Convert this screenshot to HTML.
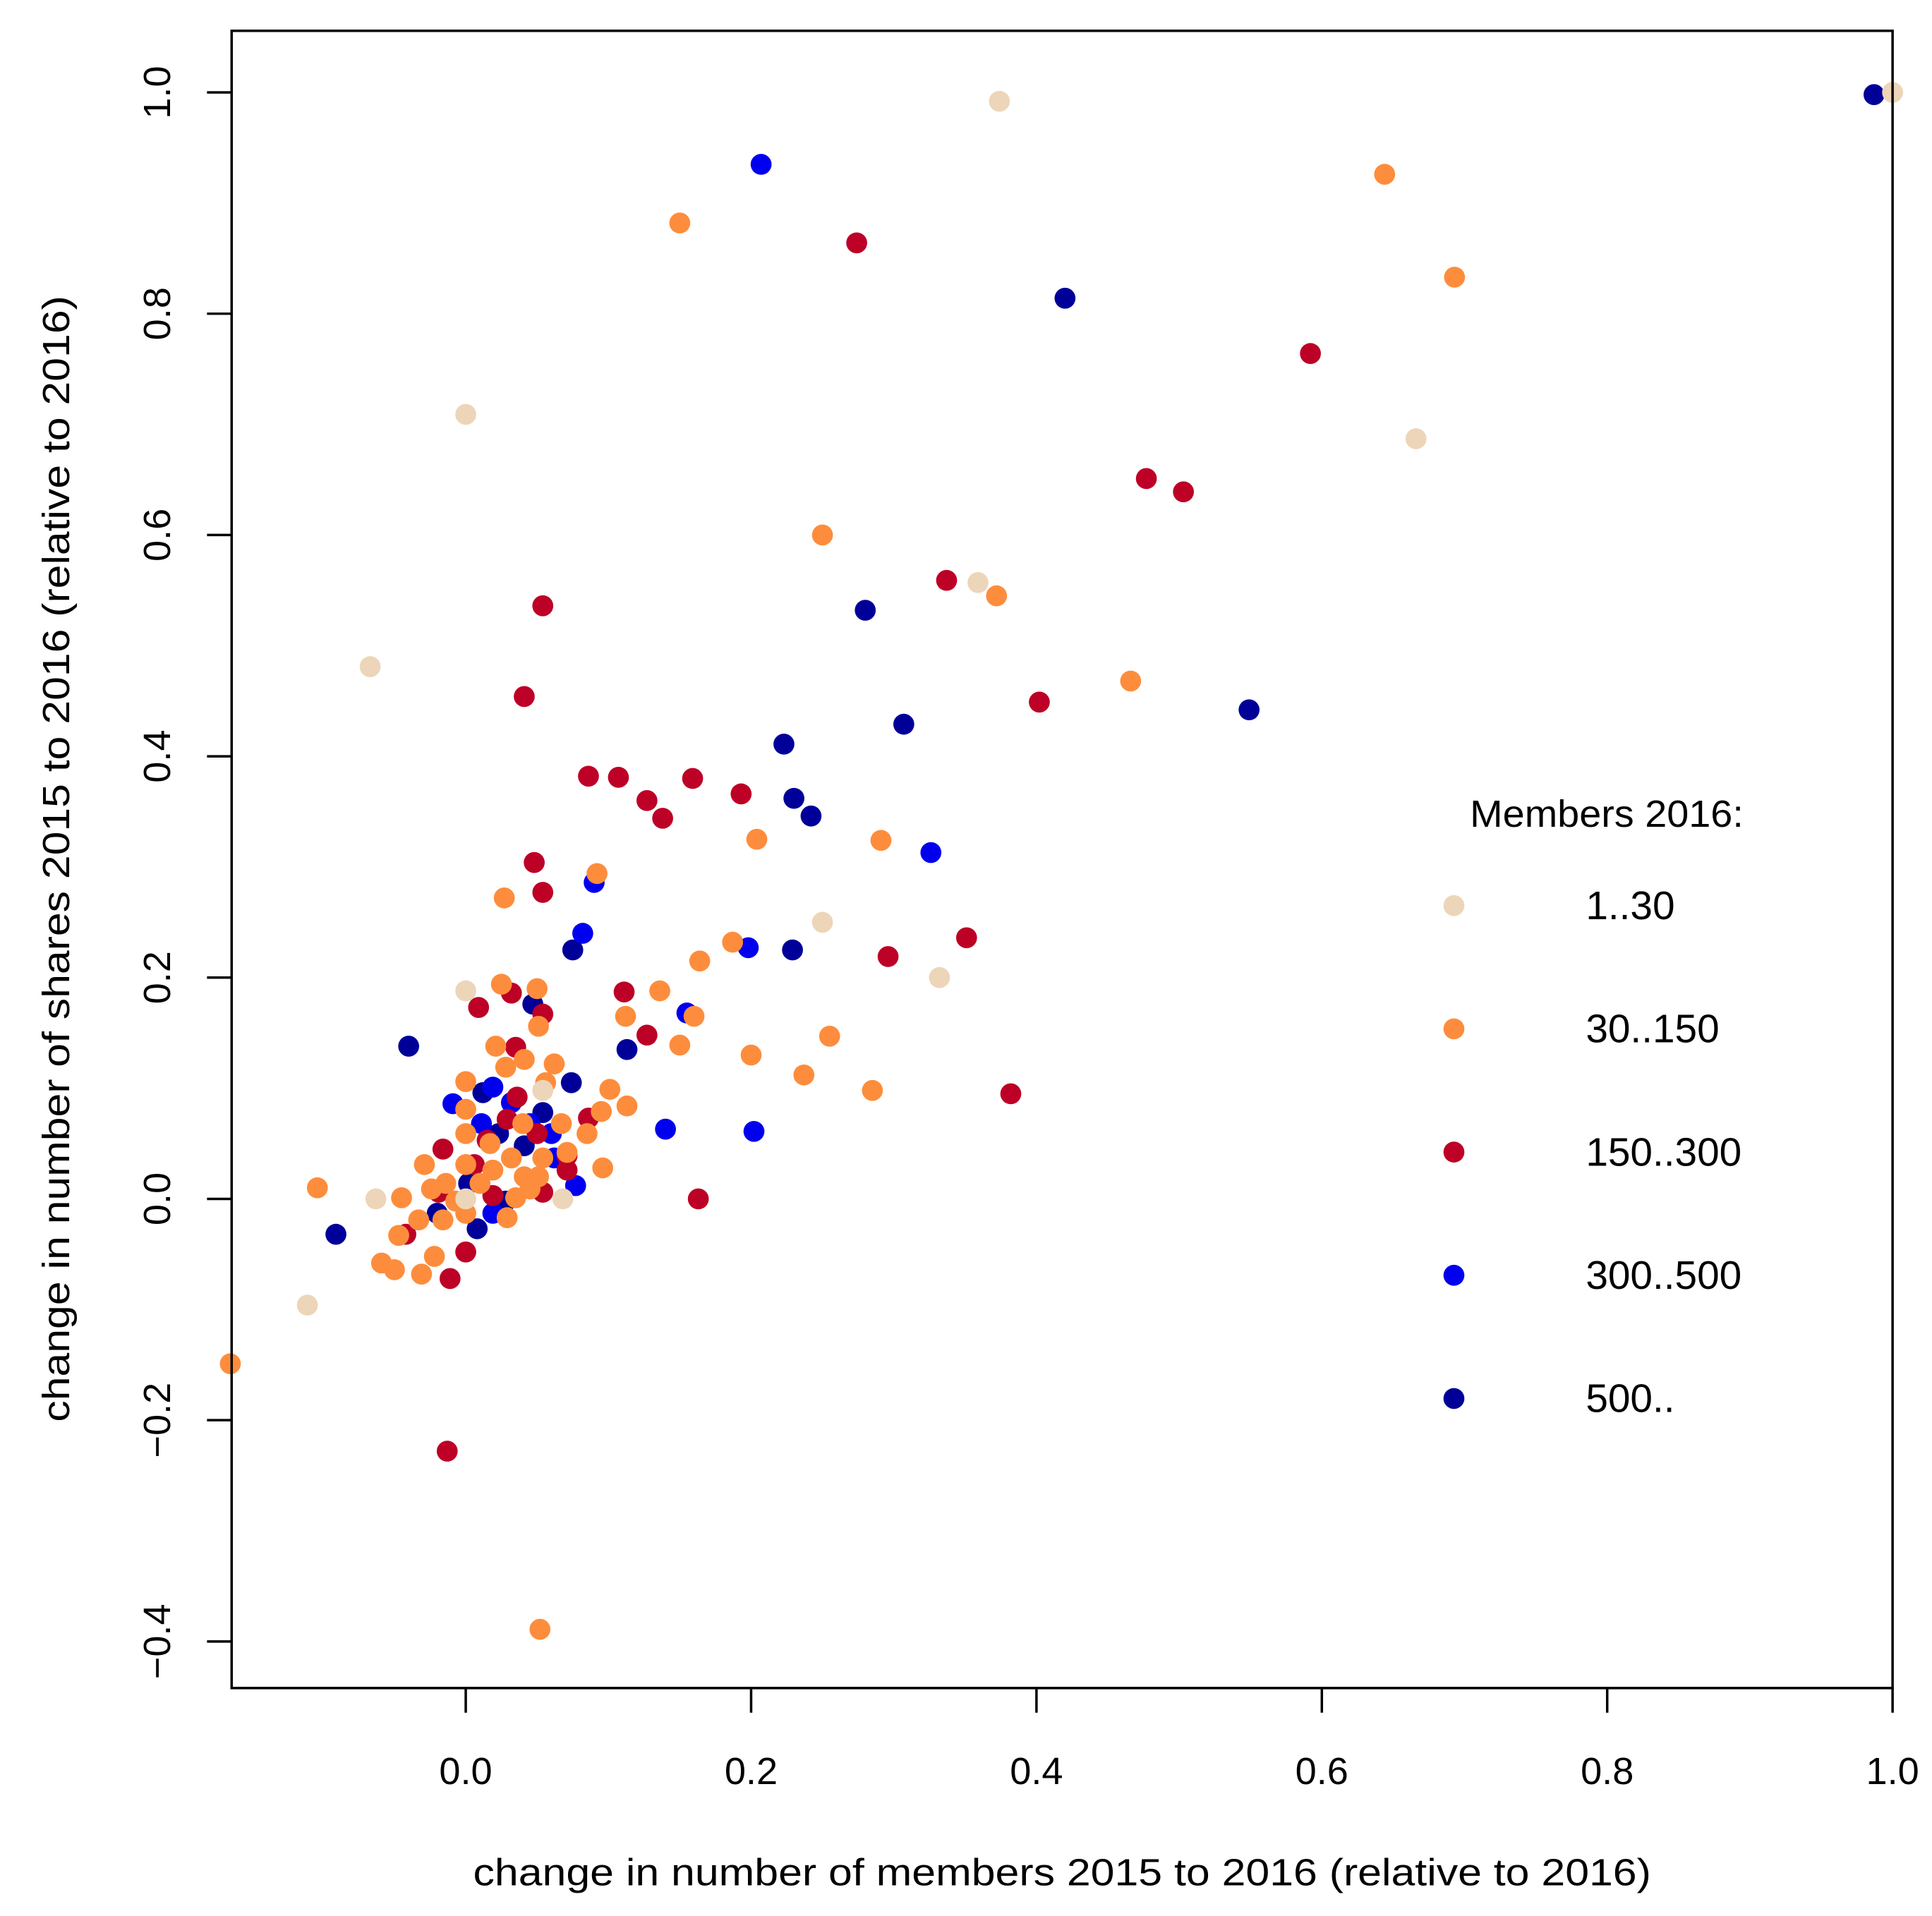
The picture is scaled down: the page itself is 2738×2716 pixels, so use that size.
<!DOCTYPE html>
<html><head><meta charset="utf-8"><style>html,body{margin:0;padding:0;background:#fff}svg{display:block}</style></head>
<body>
<svg id="chart" width="2738" height="2716" viewBox="0 0 1568 1555" preserveAspectRatio="none" xmlns="http://www.w3.org/2000/svg" font-family="'Liberation Sans', Arial, sans-serif">
<rect width="1568" height="1555" fill="#fff"/>
<g id="points"></g>
<rect x="188" y="25" width="1348" height="1345" fill="none" stroke="#000" stroke-width="2"/>
<g id="axes"></g>
<text x="862" y="1530" font-size="31" text-anchor="middle" textLength="956" lengthAdjust="spacingAndGlyphs">change in number of members 2015 to 2016 (relative to 2016)</text>
<text transform="translate(56,697) rotate(-90)" font-size="31" text-anchor="middle" textLength="914" lengthAdjust="spacingAndGlyphs">change in number of shares 2015 to 2016 (relative to 2016)</text>
<g id="legend">
<text x="1193" y="671" font-size="31" textLength="222" lengthAdjust="spacingAndGlyphs">Members 2016:</text>
</g>
</svg>
<script>
const groups = ["1..30","30..150","150..300","300..500","500.."];
const colors = ["#EDD5B9","#FD8D3C","#BD0026","#0000EE","#000099"];
const xTicks = [0,0.2,0.4,0.6,0.8,1.0];
const yTicks = [-0.4,-0.2,0,0.2,0.4,0.6,0.8,1.0];
const beigeX=[0.374,1.0,0,0.666,0.359,-0.067,0.25,0.332,0,-0.063,-0.111,0.068,0.054,0];
const beigeY=[0.992,1.0,0.709,0.687,0.557,0.481,0.25,0.2,0.188,0,-0.096,0,0.098,0];
const orangeX=[0.644,0.15,0.693,0.25,0.372,0.466,0.204,0.291,0.092,0.027,0.187,0.164,0.025,0.05,0.136,0.112,0.16,0.051,0.255,0.15,0.021,0.2,0.062,0.041,0.028,0.237,0,0.056,0.285,0.101,0.113,0.095,0,0.067,0.085,0,0.04,0.017,0.096,-0.104,-0.165,0.052,-0.059,-0.05,-0.031,-0.047,-0.045,-0.029,-0.024,-0.014,0,0.01,0.032,0.041,0.051,0.035,0.019,-0.022,-0.033,-0.016,0,0.054,0.071,-0.007,0.029,0.045];
const orangeY=[0.926,0.882,0.833,0.6,0.545,0.468,0.325,0.324,0.294,0.272,0.232,0.215,0.194,0.19,0.188,0.165,0.165,0.156,0.147,0.139,0.138,0.13,0.122,0.126,0.119,0.112,0.106,0.105,0.098,0.099,0.084,0.079,0.081,0.068,0.059,0.059,0.068,0.05,0.028,0.01,-0.149,-0.389,-0.058,-0.064,-0.068,-0.033,0.001,0.031,0.009,0.014,0.031,0.014,0.037,0.02,0.02,0.001,0.026,-0.052,-0.019,-0.019,-0.013,0.037,0.042,-0.002,-0.017,0.009];
const redX=[0.274,0.592,0.477,0.503,0.337,0.054,0.041,0.402,0.086,0.107,0.159,0.127,0.193,0.138,0.048,0.054,0.351,0.296,0.111,0.032,0.009,0.054,0.127,0.035,0.382,0.163,-0.013,-0.011,0,-0.042,-0.016,0.086,0.036,0.071,0.071,0.054,0.029,0.019,-0.019,0.05,0.006,0.015];
const redY=[0.864,0.764,0.651,0.639,0.559,0.536,0.454,0.449,0.382,0.381,0.38,0.36,0.366,0.344,0.304,0.277,0.236,0.219,0.187,0.186,0.173,0.167,0.148,0.137,0.095,0,-0.228,-0.072,-0.048,-0.032,0.045,0.073,0.092,0.039,0.026,0.006,0.072,0.003,0.006,0.059,0.031,0.053];
const blueX=[0.207,0.326,0.09,0.082,0.198,0.155,0.14,0.202,-0.009,0.019,0.011,0.06,0.062,0.077,0.019,0.032,0.045];
const blueY=[0.935,0.313,0.286,0.24,0.227,0.168,0.063,0.061,0.086,0.101,0.068,0.059,0.037,0.012,-0.013,0.087,0.068];
const navyX=[0.987,0.42,0.28,0.549,0.307,0.223,0.23,0.242,0.229,0.075,0.047,0.113,-0.04,0.074,-0.091,0.008,0.012,0.054,0.023,0.028,-0.02,0.041,0.002];
const navyY=[0.998,0.814,0.532,0.442,0.429,0.411,0.362,0.346,0.225,0.225,0.176,0.135,0.138,0.105,-0.032,-0.027,0.096,0.078,0.059,-0.002,-0.013,0.048,0.014];

const NS="http://www.w3.org/2000/svg";
function sx(v){return 378+v*1158;}
function sy(v){return 973-v*898;}
const series=[[navyX,navyY,4],[blueX,blueY,3],[redX,redY,2],[orangeX,orangeY,1],[beigeX,beigeY,0]];
const pg=document.getElementById('points');
series.forEach(s=>{
  s[0].forEach((xv,i)=>{
    const c=document.createElementNS(NS,'circle');
    c.setAttribute('cx',sx(xv));c.setAttribute('cy',sy(s[1][i]));c.setAttribute('r',8.5);
    c.setAttribute('fill',colors[s[2]]);
    
    
    pg.appendChild(c);
  });
});
const ax=document.getElementById('axes');
xTicks.forEach(t=>{
  const l=document.createElementNS(NS,'line');
  l.setAttribute('x1',sx(t));l.setAttribute('x2',sx(t));l.setAttribute('y1',1370);l.setAttribute('y2',1390);
  l.setAttribute('stroke','#000');l.setAttribute('stroke-width',2);
  
  
  ax.appendChild(l);
  const tx=document.createElementNS(NS,'text');
  tx.setAttribute('x',sx(t));tx.setAttribute('y',1448);tx.setAttribute('font-size',31);tx.setAttribute('text-anchor','middle');
  tx.textContent=t.toFixed(1);
  
  
  ax.appendChild(tx);
});
yTicks.forEach(t=>{
  const l=document.createElementNS(NS,'line');
  l.setAttribute('x1',168);l.setAttribute('x2',188);l.setAttribute('y1',sy(t));l.setAttribute('y2',sy(t));
  l.setAttribute('stroke','#000');l.setAttribute('stroke-width',2);
  
  
  ax.appendChild(l);
  const tx=document.createElementNS(NS,'text');
  tx.setAttribute('transform','translate(138,'+sy(t)+') rotate(-90)');tx.setAttribute('font-size',31);tx.setAttribute('text-anchor','middle');
  tx.textContent=(t<0?'\u2212':'')+Math.abs(t).toFixed(1);
  
  
  ax.appendChild(tx);
});
const lg=document.getElementById('legend');
groups.forEach((g,i)=>{
  const y=735+i*100;
  const c=document.createElementNS(NS,'circle');
  c.setAttribute('cx',1180);c.setAttribute('cy',y);c.setAttribute('r',8.5);c.setAttribute('fill',colors[i]);
  
  
  lg.appendChild(c);
  const t=document.createElementNS(NS,'text');
  t.setAttribute('x',1287);t.setAttribute('y',y+11);t.setAttribute('font-size',32.5);t.textContent=g;
  
  
  lg.appendChild(t);
});
</script>
</body></html>
